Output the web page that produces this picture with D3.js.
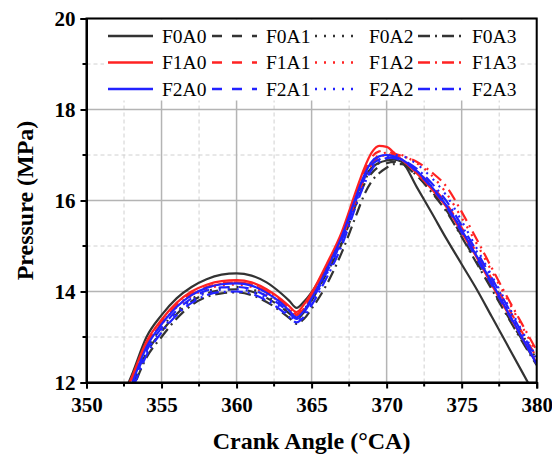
<!DOCTYPE html>
<html>
<head>
<meta charset="utf-8">
<script src="https://cdn.jsdelivr.net/npm/d3@7"></script>
<style>
  body { margin: 0; background: #fff; }
  text { font-family: "Liberation Serif", "Times New Roman", serif; }
</style>
</head>
<body>
<svg id="chart"></svg>
<script>
// crank angle sample points (°CA)
var angles = [352, 353, 354, 355, 356, 357, 358, 359, 360, 361, 362, 363, 363.5, 364, 364.5, 365, 366, 367, 368, 368.5, 369, 369.5, 370, 370.5, 371, 372, 373, 374, 375, 376, 377, 378, 379, 380];

// pressure (MPa) per case
var F0A0 = [11.4, 12.15, 13.0, 13.48, 13.85, 14.1, 14.27, 14.37, 14.4, 14.35, 14.2, 13.95, 13.8, 13.64, 13.78, 13.98, 14.55, 15.2, 16.1, 16.5, 16.72, 16.83, 16.88, 16.9, 16.85, 16.3, 15.73, 15.15, 14.6, 14.05, 13.45, 12.85, 12.25, 11.65];
var F0A1 = [11.2, 11.9, 12.65, 13.12, 13.5, 13.78, 13.95, 14.03, 14.05, 14.0, 13.86, 13.65, 13.52, 13.4, 13.55, 13.8, 14.4, 15.05, 15.95, 16.35, 16.6, 16.75, 16.82, 16.85, 16.8, 16.55, 16.2, 15.78, 15.22, 14.65, 14.08, 13.5, 12.95, 12.42];
var F0A2 = [11.25, 11.95, 12.72, 13.2, 13.56, 13.83, 14.0, 14.08, 14.1, 14.05, 13.9, 13.7, 13.57, 13.45, 13.6, 13.85, 14.45, 15.12, 16.0, 16.42, 16.68, 16.82, 16.9, 16.92, 16.88, 16.65, 16.3, 15.9, 15.35, 14.8, 14.22, 13.65, 13.08, 12.5];
var F0A3 = [11.1, 11.8, 12.55, 13.0, 13.4, 13.7, 13.88, 13.96, 13.98, 13.92, 13.77, 13.55, 13.42, 13.29, 13.4, 13.62, 14.15, 14.85, 15.7, 16.12, 16.42, 16.6, 16.72, 16.8, 16.8, 16.55, 16.18, 15.75, 15.2, 14.62, 14.05, 13.48, 12.92, 12.38];
var F1A0 = [11.3, 12.1, 12.9, 13.38, 13.75, 14.0, 14.15, 14.23, 14.25, 14.2, 14.05, 13.82, 13.68, 13.55, 13.72, 13.97, 14.6, 15.3, 16.25, 16.7, 17.05, 17.2, 17.18, 17.05, 16.9, 16.6, 16.25, 15.85, 15.3, 14.75, 14.15, 13.57, 13.0, 12.42];
var F1A1 = [11.25, 12.05, 12.85, 13.33, 13.7, 13.95, 14.1, 14.18, 14.2, 14.15, 14.0, 13.78, 13.63, 13.5, 13.66, 13.92, 14.55, 15.25, 16.2, 16.62, 16.95, 17.08, 17.1, 17.02, 16.9, 16.65, 16.32, 15.92, 15.4, 14.85, 14.28, 13.7, 13.12, 12.55];
var F1A2 = [11.2, 12.0, 12.8, 13.28, 13.65, 13.9, 14.05, 14.13, 14.15, 14.1, 13.95, 13.74, 13.6, 13.48, 13.63, 13.9, 14.5, 15.2, 16.12, 16.55, 16.85, 17.0, 17.05, 17.05, 17.0, 16.82, 16.55, 16.15, 15.62, 15.05, 14.45, 13.85, 13.25, 12.65];
var F1A3 = [11.2, 12.0, 12.82, 13.3, 13.68, 13.93, 14.08, 14.17, 14.2, 14.15, 14.0, 13.78, 13.62, 13.48, 13.62, 13.88, 14.48, 15.15, 16.05, 16.48, 16.8, 16.95, 17.0, 17.02, 16.98, 16.85, 16.62, 16.3, 15.75, 15.15, 14.52, 13.9, 13.3, 12.7];
var F2A0 = [11.1, 11.95, 12.78, 13.28, 13.66, 13.92, 14.08, 14.16, 14.18, 14.13, 13.97, 13.74, 13.58, 13.43, 13.58, 13.85, 14.48, 15.2, 16.12, 16.55, 16.85, 16.97, 17.0, 16.97, 16.9, 16.65, 16.3, 15.88, 15.35, 14.78, 14.2, 13.6, 13.0, 12.4];
var F2A1 = [11.05, 11.9, 12.7, 13.2, 13.58, 13.85, 14.02, 14.09, 14.1, 14.05, 13.9, 13.68, 13.53, 13.4, 13.55, 13.8, 14.42, 15.12, 16.05, 16.48, 16.78, 16.9, 16.95, 16.93, 16.88, 16.63, 16.28, 15.85, 15.3, 14.73, 14.15, 13.57, 13.0, 12.42];
var F2A2 = [11.0, 11.85, 12.65, 13.15, 13.53, 13.8, 13.97, 14.04, 14.05, 14.0, 13.85, 13.63, 13.48, 13.36, 13.5, 13.75, 14.38, 15.08, 16.0, 16.45, 16.75, 16.9, 16.97, 17.0, 16.98, 16.8, 16.5, 16.1, 15.55, 14.95, 14.35, 13.75, 13.15, 12.55];
var F2A3 = [10.95, 11.8, 12.6, 13.1, 13.48, 13.75, 13.92, 13.99, 14.0, 13.95, 13.8, 13.58, 13.44, 13.32, 13.45, 13.7, 14.3, 15.0, 15.92, 16.35, 16.68, 16.85, 16.93, 16.95, 16.9, 16.7, 16.38, 15.98, 15.45, 14.88, 14.3, 13.7, 13.1, 12.5];

var names = ["F0A0", "F0A1", "F0A2", "F0A3", "F1A0", "F1A1", "F1A2", "F1A3", "F2A0", "F2A1", "F2A2", "F2A3"];
var values = [F0A0, F0A1, F0A2, F0A3, F1A0, F1A1, F1A2, F1A3, F2A0, F2A1, F2A2, F2A3];

var xTicks = [350, 355, 360, 365, 370, 375, 380];
var yTicks = [12, 14, 16, 18, 20];

var width = 552, height = 456;
var margin = { left: 86.5, right: 15.3, top: 18.5, bottom: 73.5 };

var fColors = ["#333333", "#ff2222", "#2222ff"];
var aDash = [null, "10,10", "2,7", "12,5,2,5"];

var svg = d3.select("#chart").attr("width", width).attr("height", height);

var x = d3.scaleLinear().domain([350, 380]).range([margin.left, width - margin.right]);
var y = d3.scaleLinear().domain([12, 20]).range([height - margin.bottom, margin.top]);

// grid: dashed minor, solid major
var minorX = d3.range(352.5, 380, 5);
var minorY = d3.range(13, 20, 2);

svg.append("g").selectAll("line")
    .data(minorX).enter().append("line")
    .attr("x1", d => x(d)).attr("x2", d => x(d))
    .attr("y1", y(12)).attr("y2", y(20))
    .style("stroke", "#d0d0d0").style("stroke-width", 1).style("stroke-dasharray", "4,3");
svg.append("g").selectAll("line")
    .data(minorY).enter().append("line")
    .attr("x1", x(350)).attr("x2", x(380))
    .attr("y1", d => y(d)).attr("y2", d => y(d))
    .style("stroke", "#d0d0d0").style("stroke-width", 1).style("stroke-dasharray", "4,3");
svg.append("g").selectAll("line")
    .data(xTicks).enter().append("line")
    .attr("x1", d => x(d)).attr("x2", d => x(d))
    .attr("y1", y(12)).attr("y2", y(20))
    .style("stroke", "#b4b4b4").style("stroke-width", 1.5);
svg.append("g").selectAll("line")
    .data(yTicks).enter().append("line")
    .attr("x1", x(350)).attr("x2", x(380))
    .attr("y1", d => y(d)).attr("y2", d => y(d))
    .style("stroke", "#b4b4b4").style("stroke-width", 1.5);

// legend background hides the grid behind it
var legX = [108, 212, 315, 418];
var legY = [36, 62.5, 89];
svg.append("rect")
    .attr("x", 104).attr("y", margin.top + 1)
    .attr("width", 416).attr("height", 81)
    .style("fill", "#fff");

var legend = svg.append("g").selectAll("g")
    .data(names).enter().append("g")
    .attr("transform", (d, i) => "translate(" + legX[i % 4] + "," + legY[Math.floor(i / 4)] + ")");
legend.append("line")
    .attr("x1", 0).attr("x2", 45)
    .style("stroke", (d, i) => fColors[Math.floor(i / 4)])
    .style("stroke-width", 2.5)
    .style("stroke-dasharray", (d, i) => aDash[i % 4]);
legend.append("text")
    .attr("x", 54).attr("y", 6.5)
    .style("font-size", "19.5px")
    .text(d => d);

// curves
svg.append("clipPath").attr("id", "clip")
    .append("rect")
    .attr("x", x(350)).attr("y", y(20))
    .attr("width", x(380) - x(350)).attr("height", y(12) - y(20));

var line = d3.line()
    .x((d, i) => x(angles[i]))
    .y(d => y(d))
    .curve(d3.curveMonotoneX);

svg.append("g").attr("clip-path", "url(#clip)")
    .selectAll("path")
    .data(values).enter().append("path")
    .attr("d", line)
    .style("fill", "none")
    .style("stroke", (d, i) => fColors[Math.floor(i / 4)])
    .style("stroke-width", 2.2)
    .style("stroke-dasharray", (d, i) => aDash[i % 4]);

// frame
svg.append("rect")
    .attr("x", x(350)).attr("y", y(20))
    .attr("width", x(380) - x(350)).attr("height", y(12) - y(20))
    .style("fill", "none").style("stroke", "#000").style("stroke-width", 2);

// axes
var xAxis = d3.axisBottom(x).tickValues(xTicks).tickSize(6).tickPadding(6);
var gx = svg.append("g").attr("transform", "translate(0," + y(12) + ")").call(xAxis);
gx.selectAll(".tick line").style("stroke-width", 2);
gx.append("g").selectAll("line")
    .data(minorX).enter().append("line")
    .attr("x1", d => x(d)).attr("x2", d => x(d))
    .attr("y1", 0).attr("y2", 4)
    .style("stroke", "#000").style("stroke-width", 2);

var yAxis = d3.axisLeft(y).tickValues(yTicks).tickSize(6).tickPadding(5);
var gy = svg.append("g").attr("transform", "translate(" + x(350) + ",0)").call(yAxis);
gy.selectAll(".tick line").style("stroke-width", 2);
gy.append("g").selectAll("line")
    .data(minorY).enter().append("line")
    .attr("x1", -4).attr("x2", 0)
    .attr("y1", d => y(d)).attr("y2", d => y(d))
    .style("stroke", "#000").style("stroke-width", 2);

svg.selectAll(".domain").style("stroke-width", 2);
svg.selectAll(".tick text")
    .style("font-family", "'Liberation Serif', 'Times New Roman', serif")
    .style("font-size", "21px")
    .style("font-weight", "bold")
    .style("fill", "#000");
gx.selectAll(".tick text").attr("dy", "0.85em");

// titles
svg.append("text")
    .attr("x", (x(350) + x(380)) / 2).attr("y", 449)
    .attr("text-anchor", "middle")
    .style("font-size", "24px").style("font-weight", "bold")
    .text("Crank Angle (°CA)");

svg.append("text")
    .attr("transform", "translate(33," + (y(12) + y(20)) / 2 + ") rotate(-90)")
    .attr("text-anchor", "middle")
    .style("font-size", "24px").style("font-weight", "bold")
    .text("Pressure (MPa)");
</script>
</body>
</html>
